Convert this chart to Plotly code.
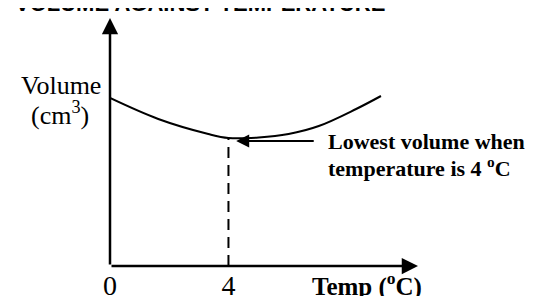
import plotly.graph_objects as go

# ---- data ----
temps = [0, 1.63, 3.32, 4.0, 5.02, 6.03, 7.05, 8.31, 9.15]
volumes = [168, 147, 132, 128, 128.5, 132, 140, 157, 170]
min_temp = 4
min_volume = 128
tick_vals = [0, 4]
tick_text = ["0", "4"]

x_max = 10.4
y_max = 248

serif = "Liberation Serif, Times New Roman, serif"

# plot area geometry (pixels)
L, R, T, B = 102, 124, 10, 38
W, H = 534, 296
PW, PH = W - L - R, H - T - B


def px_x(px):
    return (px - L) / PW


def px_y(py):
    return (H - B - py) / PH


fig = go.Figure()

fig.add_trace(go.Scatter(
    x=temps, y=volumes, mode="lines",
    line=dict(color="black", width=2, shape="spline", smoothing=1.0),
    hoverinfo="skip", showlegend=False,
))

fig.add_trace(go.Scatter(
    x=[min_temp, min_temp], y=[0, min_volume], mode="lines",
    line=dict(color="black", width=2, dash="11px,7px"),
    hoverinfo="skip", showlegend=False,
))

annotations = [
    # y axis arrow
    dict(x=0, y=y_max, ax=0, ay=0, xref="x", yref="y", axref="x", ayref="y",
         text="", showarrow=True, arrowhead=2, arrowsize=1.3, arrowwidth=2.5,
         arrowcolor="black", standoff=0, startstandoff=0),
    # x axis arrow
    dict(x=x_max, y=0, ax=0, ay=0, xref="x", yref="y", axref="x", ayref="y",
         text="", showarrow=True, arrowhead=2, arrowsize=1.3, arrowwidth=2.5,
         arrowcolor="black", standoff=0, startstandoff=0),
    # callout arrow
    dict(x=4.26, y=125, ax=6.93, ay=125, xref="x", yref="y", axref="x", ayref="y",
         text="", showarrow=True, arrowhead=2, arrowsize=1.3, arrowwidth=2,
         arrowcolor="black", standoff=0),
    dict(x=px_x(318), y=px_y(133), xref="paper", yref="paper",
         xanchor="left", yanchor="middle",
         text="<b>Lowest volume when</b>", showarrow=False,
         font=dict(family=serif, size=22, color="black")),
    dict(x=px_x(318), y=px_y(159), xref="paper", yref="paper",
         xanchor="left", yanchor="middle",
         text="<b>temperature is 4 <sup>o</sup>C</b>", showarrow=False,
         font=dict(family=serif, size=22, color="black")),
    # y axis label
    dict(x=px_x(53), y=px_y(77), xref="paper", yref="paper",
         xanchor="center", yanchor="middle",
         text="Volume", showarrow=False,
         font=dict(family=serif, size=26, color="black")),
    dict(x=px_x(52), y=px_y(105), xref="paper", yref="paper",
         xanchor="center", yanchor="middle",
         text="(cm<sup>3</sup>)", showarrow=False,
         font=dict(family=serif, size=26, color="black")),
    # x axis title
    dict(x=px_x(302), y=px_y(276), xref="paper", yref="paper",
         xanchor="left", yanchor="middle",
         text="<b>Temp (<sup>o</sup>C)</b>", showarrow=False,
         font=dict(family=serif, size=25, color="black")),
    # chart title (cut off at top)
    dict(x=px_x(5), y=px_y(10), xref="paper", yref="paper",
         xanchor="left", yanchor="bottom",
         text="<b>VOLUME AGAINST TEMPERATURE</b>", showarrow=False,
         font=dict(family="Liberation Sans, Arial, sans-serif", size=22, color="black")),
]

fig.update_layout(
    width=W, height=H,
    margin=dict(l=L, r=R, t=T, b=B, pad=0),
    paper_bgcolor="white", plot_bgcolor="white",
    xaxis=dict(range=[0, x_max], showgrid=False, zeroline=False, showline=False,
               tickvals=tick_vals, ticktext=tick_text, ticks="",
               tickfont=dict(family=serif, size=28, color="black"),
               automargin=False, fixedrange=True),
    yaxis=dict(range=[0, y_max], showgrid=False, zeroline=False, showline=False,
               showticklabels=False, ticks="", automargin=False, fixedrange=True),
    annotations=annotations,
    showlegend=False,
)

fig.write_html("out.html")
